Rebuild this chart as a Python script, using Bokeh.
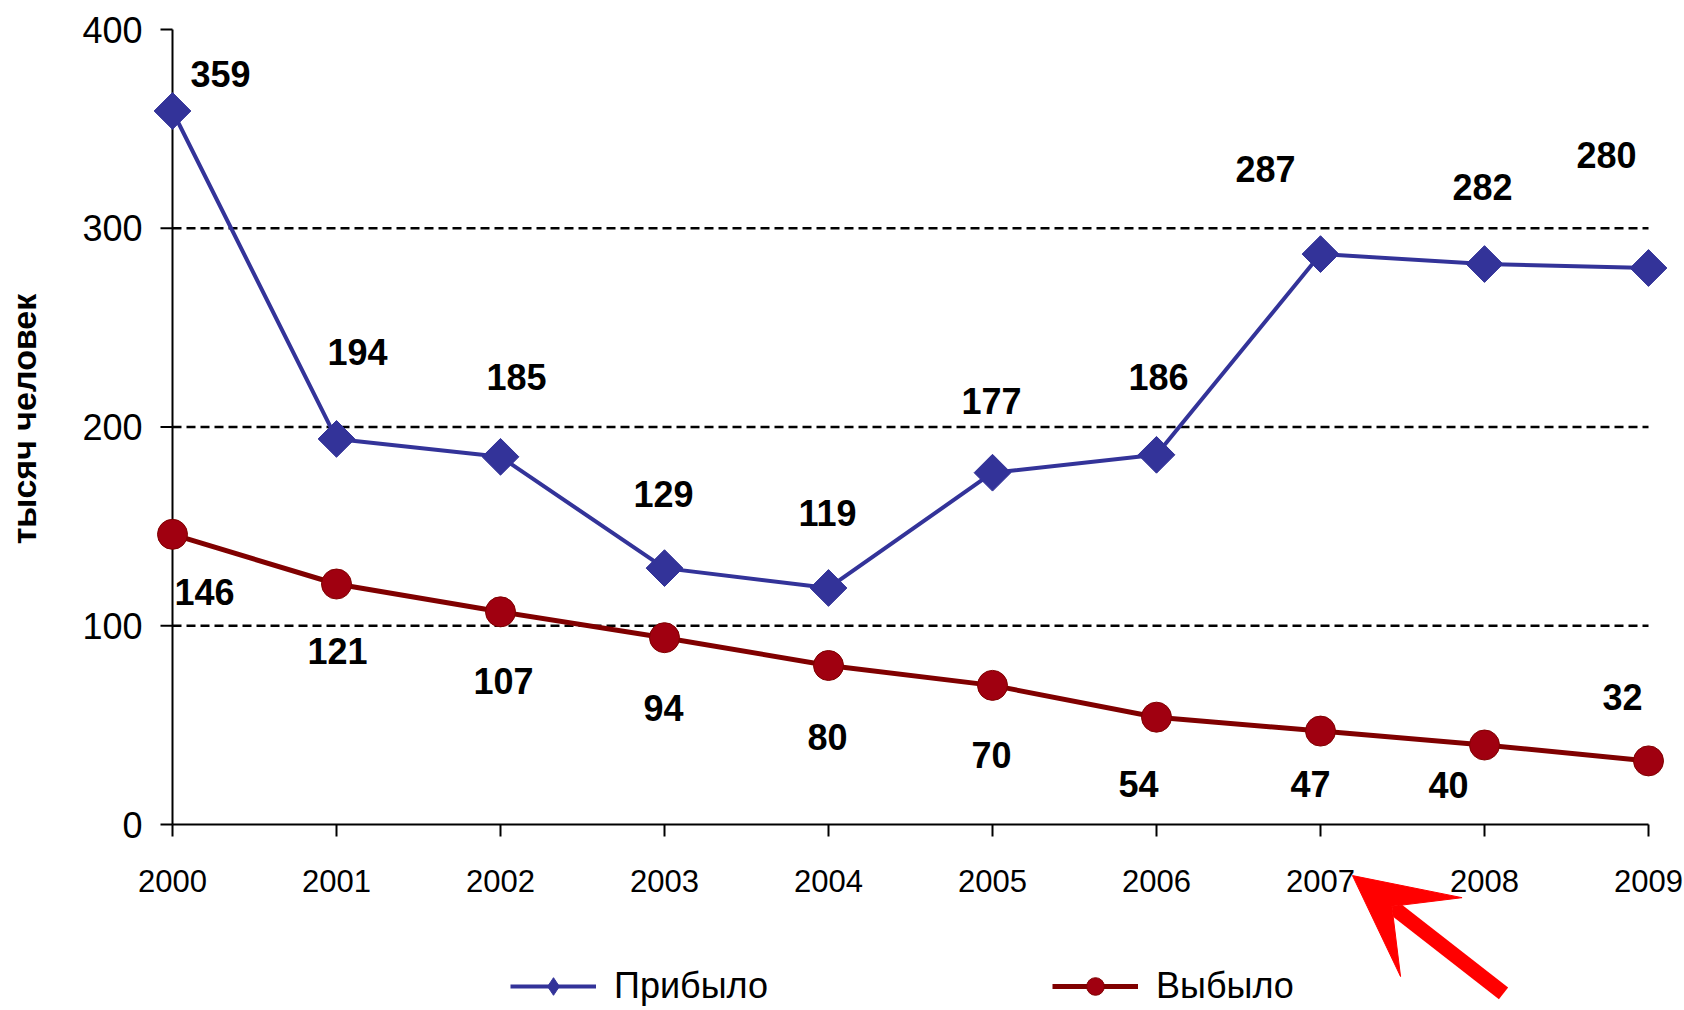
import math
from bokeh.plotting import figure
from bokeh.models import (ColumnDataSource, Range1d, Legend, LegendItem, Arrow, VeeHead)
from bokeh.core.properties import value
from bokeh.embed import file_html
from bokeh.resources import INLINE

# ---- data ----
years = [2000, 2001, 2002, 2003, 2004, 2005, 2006, 2007, 2008, 2009]
arrived = [359, 194, 185, 129, 119, 177, 186, 287, 282, 280]      # Прибыло
departed = [146, 121, 107, 94, 80, 70, 54, 47, 40, 32]            # Выбыло
y_ticks = [0, 100, 200, 300, 400]
grid_levels = [100, 200, 300]
year_labels = [str(y) for y in years]
y_tick_labels = [str(v) for v in y_ticks]
series_names = ["Прибыло", "Выбыло"]
axis_title = "тысяч человек"

# label placement (screen pixel offsets from each point)
arr_dx = [48, 21, 16, -1, -1, -1, 2, -55, -2, -42]
arr_dy = [-37, -87, -80, -74, -75, -72, -78, -85, -77, -113]
dep_dx = [32, 1, 3, -1, -1, -1, -18, -10, -36, -26]
dep_dy = [58, 67, 69, 70, 71, 70, 67, 53, 40, -64]

# ---- layout constants (pixels) ----
W, H = 1684, 1010
ORIGIN_X, ORIGIN_Y = 172, 824        # pixel position of (2000, 0)
PX_PER_YEAR = 164.0
PX_PER_UNIT = 795.0 / 400.0
X_START = years[0] - ORIGIN_X / PX_PER_YEAR
X_END = X_START + W / PX_PER_YEAR
Y_START = y_ticks[0] - (H - ORIGIN_Y) / PX_PER_UNIT
Y_END = Y_START + H / PX_PER_UNIT
TICK_PX = 12
X_TICK_LEN = TICK_PX / PX_PER_UNIT
Y_TICK_LEN = TICK_PX / PX_PER_YEAR

FONT = "Liberation Sans"
BLUE = "#333399"
RED_LINE = "#800000"
RED_FILL = "#a00010"

src_a = ColumnDataSource(dict(x=years, y=arrived, t=[str(v) for v in arrived], dx=arr_dx, dy=arr_dy))
src_d = ColumnDataSource(dict(x=years, y=departed, t=[str(v) for v in departed], dx=dep_dx, dy=dep_dy))

p = figure(width=W, height=H,
           x_range=Range1d(X_START, X_END), y_range=Range1d(Y_START, Y_END),
           output_backend="svg", toolbar_location=None,
           x_axis_location=None, y_axis_location=None,
           min_border_left=0, min_border_right=0, min_border_top=0, min_border_bottom=0)
p.outline_line_color = None
p.xgrid.visible = False
p.ygrid.visible = False

# dashed horizontal gridlines between first and last year
p.segment(x0=[years[0]] * len(grid_levels), x1=[years[-1]] * len(grid_levels),
          y0=grid_levels, y1=grid_levels, line_color="black", line_width=2.5, line_dash="9 5")

# axes: lines, ticks and tick labels
p.segment(x0=[years[0]], x1=[years[0]], y0=[y_ticks[0]], y1=[y_ticks[-1]], line_color="black", line_width=2)
p.segment(x0=[years[0]], x1=[years[-1]], y0=[y_ticks[0]], y1=[y_ticks[0]], line_color="black", line_width=2)
p.segment(x0=years, x1=years, y0=[y_ticks[0]] * len(years), y1=[y_ticks[0] - X_TICK_LEN] * len(years),
          line_color="black", line_width=2)
p.segment(x0=[years[0] - Y_TICK_LEN] * len(y_ticks), x1=[years[0]] * len(y_ticks), y0=y_ticks, y1=y_ticks,
          line_color="black", line_width=2)
p.text(x=years, y=[y_ticks[0]] * len(years), text=year_labels, y_offset=56,
       text_align="center", text_baseline="middle", text_font=value(FONT),
       text_font_size="31px", text_color="black")
p.text(x=[years[0]] * len(y_ticks), y=y_ticks, text=y_tick_labels, x_offset=-30,
       text_align="right", text_baseline="middle", text_font=value(FONT),
       text_font_size="36px", text_color="black")
p.text(x=[years[0]], y=[(y_ticks[0] + y_ticks[-1]) / 2], text=[axis_title], x_offset=23 - ORIGIN_X,
       y_offset=-8, angle=math.pi / 2, text_align="center", text_baseline="middle",
       text_font=value(FONT), text_font_style="bold", text_font_size="34px", text_color="black")

# series
la = p.line("x", "y", source=src_a, line_color=BLUE, line_width=4)
ma_key = p.scatter("x", "y", source=src_a, marker="diamond", size=34, fill_color=BLUE, line_color=BLUE)
ma = p.scatter("x", "y", source=src_a, marker="square", angle=math.pi / 4, size=26,
               fill_color=BLUE, line_color=BLUE)
ld = p.line("x", "y", source=src_d, line_color=RED_LINE, line_width=5)
md = p.scatter("x", "y", source=src_d, marker="circle", size=30, fill_color=RED_FILL, line_color=RED_LINE)

for s in (src_a, src_d):
    p.text("x", "y", text="t", source=s, x_offset="dx", y_offset="dy",
           text_align="center", text_baseline="middle",
           text_font=value(FONT), text_font_style="bold", text_font_size="36px", text_color="black")

# legends (one per series), positioned from the frame's bottom-left
for rends, name, loc in (([la, ma_key], series_names[0], (510, 2)),
                         ([ld, md], series_names[1], (1052, 2))):
    lg = Legend(items=[LegendItem(label=name, renderers=rends)], location=loc,
                orientation="horizontal", glyph_width=86, glyph_height=44, label_height=44,
                label_standoff=18, padding=0, margin=0, spacing=0,
                border_line_color=None, background_fill_alpha=0,
                label_text_font=FONT, label_text_font_size="36px", label_text_color="black")
    p.add_layout(lg, "center")

# red pointer arrow towards the 2007 label
p.add_layout(Arrow(x_start=2008.116, y_start=-85.0, x_end=2007.195, y_end=-25.7,
                   line_color="red", line_width=15,
                   end=VeeHead(size=100, fill_color="red", line_color="red", line_width=1)))

open("out.html", "w").write(file_html(p, INLINE))
